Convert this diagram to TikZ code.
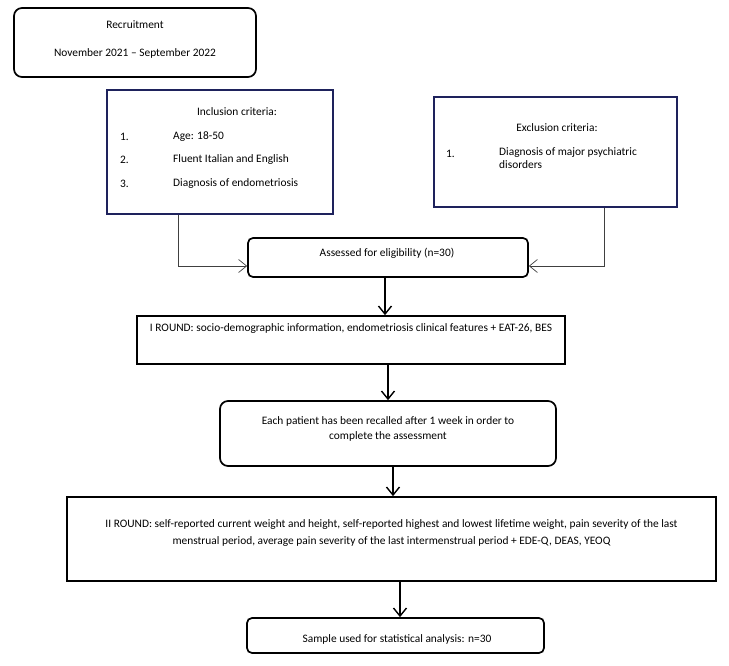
\documentclass[tikz,border=0pt]{standalone}
\usepackage{fontspec}
\setmainfont{Carlito}
\usepackage{xcolor}
\usetikzlibrary{arrows.meta}
\definecolor{critnavy}{RGB}{30,34,92}
\tikzset{
	roundbox/.style={draw, line width=1.7pt, rounded corners=#1, inner sep=0pt},
	flatbox/.style={draw, line width=1.7pt, inner sep=0pt},
	critbox/.style={draw=critnavy, line width=1.9pt, inner sep=0pt},
	txt/.style={inner sep=0pt, font=\fontsize{11.4}{13.5}\selectfont},
	mainarrow/.style={->, line width=1.4pt},
	sidearrow/.style={->, line width=0.7pt, draw=black!75}
}

\begin{document}
\begin{tikzpicture}[x=1pt, y=-1pt, >={Straight Barb[length=8pt,width=13pt]}]
		\useasboundingbox (0,0) rectangle (729,666);
		%--- Recruitment ---
		\node[roundbox=8pt, minimum width=242pt, minimum height=69pt] (recruit) at (135,42.5) {};
		\node[txt] (recruitA) at (135,25) {Recruitment};
		\node[txt] (recruitB) at (135,53) {November 2021 -- September 2022};

		%--- Inclusion criteria ---
		\node[critbox, minimum width=226pt, minimum height=124pt] (incl) at (220,152) {};
		\node[txt] (inclT) at (237,112) {Inclusion criteria:};
		\node[txt, anchor=west] (inclN1) at (120,137) {1.};
		\node[txt, anchor=west] (inclI1) at (173,137) {Age: 18-50};
		\node[txt, anchor=west] (inclN2) at (120,160) {2.};
		\node[txt, anchor=west] (inclI2) at (173,160) {Fluent Italian and English};
		\node[txt, anchor=west] (inclN3) at (120,184) {3.};
		\node[txt, anchor=west] (inclI3) at (173,184) {Diagnosis of endometriosis};

		%--- Exclusion criteria ---
		\node[critbox, minimum width=243pt, minimum height=110pt] (excl) at (555.5,152) {};
		\node[txt] (exclT) at (557,128) {Exclusion criteria:};
		\node[txt, anchor=west] (exclN1) at (446,154) {1.};
		\node[txt, anchor=north west, align=left, font=\fontsize{11.4}{13.5}\selectfont] (exclI1) at (499,147)
			{Diagnosis of major psychiatric\\disorders};

		%--- Eligibility ---
		\node[roundbox=5pt, minimum width=280pt, minimum height=39pt] (assess) at (388,257.5) {};
		\node[txt] (assessT) at (387,253) {Assessed for eligibility (n=30)};
		\draw[sidearrow] ([xshift=-42pt]incl.south) |- ([yshift=-8.5pt]assess.west);
		\draw[sidearrow] ([xshift=48.5pt]excl.south) |- ([yshift=-8.5pt]assess.east);

		%--- First round ---
		\node[flatbox, minimum width=428pt, minimum height=48pt] (iround) at (351,340) {};
		\node[txt] (iroundT) at (351,329)
			{I ROUND: socio-demographic information, endometriosis clinical features + EAT-26, BES};
		\draw[mainarrow] ([xshift=-3pt]assess.south) -- ([xshift=-3pt]assess.south |- iround.north);

		%--- Recall ---
		\node[roundbox=8pt, minimum width=336pt, minimum height=65pt] (recall) at (388,433.5) {};
		\node[txt, align=center, font=\fontsize{11.4}{14.5}\selectfont] (recallT) at (388,429)
			{Each patient has been recalled after 1 week in order to\\complete the assessment};
		\draw[mainarrow] (recall.north |- iround.south) -- (recall.north);

		%--- Second round ---
		\node[flatbox, minimum width=649pt, minimum height=84pt] (iiround) at (391.5,539) {};
		\node[txt, align=center, font=\fontsize{11.4}{17}\selectfont] (iiroundT) at (391.5,533.5)
			{II ROUND: self-reported current weight and height, self-reported highest and lowest lifetime weight, pain severity of the last\\
			menstrual period, average pain severity of the last intermenstrual period + EDE-Q, DEAS, YEOQ};
		\draw[mainarrow] ([xshift=5pt]recall.south) -- ([xshift=5pt]recall.south |- iiround.north);

		%--- Final sample ---
		\node[roundbox=5pt, minimum width=297pt, minimum height=35pt] (sample) at (395.5,635.5) {};
		\node[txt] (sampleT) at (397,639) {Sample used for statistical analysis: n=30};
		\draw[mainarrow] ([xshift=4.5pt]sample.north |- iiround.south) -- ([xshift=4.5pt]sample.north);
	\end{tikzpicture}
\end{document}
